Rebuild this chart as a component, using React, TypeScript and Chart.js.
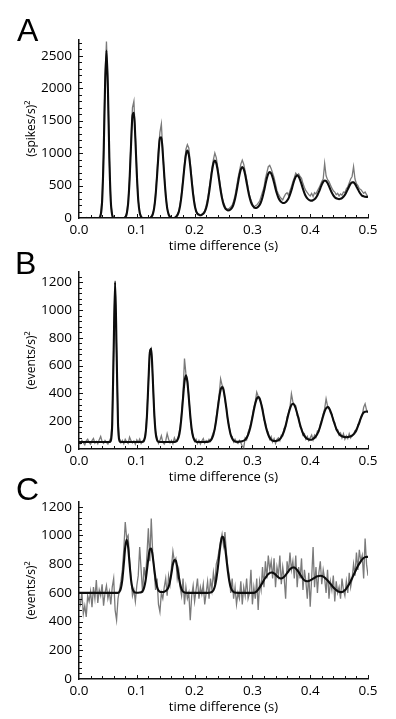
import React, { useEffect, useRef } from "react";
import { Chart, registerables } from "chart.js";

Chart.register(...registerables);

// ---------- data ----------
const TIME_STEP = 0.0025; // bin width (s)
const TIME: number[] = Array.from({ length: 201 }, (_, i) => +(i * TIME_STEP).toFixed(4));

const X_TICKS = [0, 0.1, 0.2, 0.3, 0.4, 0.5];
const A_Y_TICKS = [0, 500, 1000, 1500, 2000, 2500];
const B_Y_TICKS = [0, 200, 400, 600, 800, 1000, 1200];
const C_Y_TICKS = [0, 200, 400, 600, 800, 1000, 1200];

// Panel A – fitted curve (black)
const A_FIT = [
  0, 0, 0, 0, 0, 0, 0, 0, 0, 0,
  0, 0, 0, 0, 0, 43, 260, 930, 2000, 2580,
  2000, 930, 260, 43, 0, 0, 0, 0, 0, 0,
  0, 0, 13, 62, 224, 588, 1118, 1571, 1620, 1225,
  684, 278, 85, 18, 0, 0, 0, 0, 0, 0,
  16, 53, 152, 346, 643, 980, 1240, 1245, 993, 657,
  357, 155, 56, 16, 0, 0, 0, 14, 38, 90,
  191, 353, 568, 794, 972, 1040, 972, 794, 570, 360,
  205, 110, 65, 50, 42, 49, 64, 96, 154, 251,
  387, 553, 717, 840, 886, 844, 730, 580, 427, 302,
  213, 159, 130, 117, 119, 134, 163, 215, 296, 406,
  534, 659, 750, 784, 752, 666, 547, 426, 322, 245,
  196, 168, 154, 157, 173, 202, 249, 321, 411, 516,
  611, 682, 707, 685, 624, 542, 452, 374, 312, 271,
  246, 232, 231, 243, 266, 302, 358, 428, 508, 582,
  636, 656, 638, 589, 522, 449, 385, 335, 302, 281,
  270, 267, 275, 289, 314, 351, 401, 458, 515, 558,
  578, 570, 538, 491, 436, 388, 348, 321, 304, 295,
  291, 297, 308, 327, 356, 396, 441, 490, 529, 551,
  549, 526, 487, 443, 401, 367, 342, 335, 328, 325,
  323,
];

// Panel A – measured (grey)
const A_RAW = [
  0, 0, 6, 0, 0, 9, 0, 0, 4, 0,
  0, 7, 0, 0, 10, 60, 310, 990, 2150, 2720,
  2060, 900, 240, 50, 5, 0, 0, 8, 0, 0,
  6, 0, 20, 80, 250, 620, 1180, 1700, 1800, 1270,
  700, 260, 90, 25, 0, 6, 0, 0, 9, 0,
  25, 70, 140, 380, 690, 1050, 1320, 1450, 1030, 640,
  380, 150, 60, 20, 5, 0, 8, 20, 55, 100,
  220, 390, 600, 820, 1060, 1130, 1080, 850, 610, 400,
  230, 100, 75, 60, 40, 55, 80, 110, 190, 300,
  440, 600, 770, 900, 1000, 930, 780, 620, 470, 330,
  240, 180, 130, 140, 150, 170, 200, 260, 350, 470,
  610, 720, 830, 890, 830, 720, 600, 470, 350, 280,
  220, 160, 190, 200, 230, 260, 330, 400, 470, 610,
  700, 790, 810, 760, 690, 620, 520, 420, 370, 330,
  300, 280, 330, 370, 390, 350, 420, 480, 560, 620,
  690, 660, 680, 640, 610, 530, 470, 420, 390, 360,
  340, 380, 330, 390, 370, 420, 460, 510, 560, 600,
  840, 650, 590, 560, 510, 460, 420, 400, 360, 380,
  340, 370, 350, 400, 390, 450, 480, 540, 600, 640,
  790, 600, 530, 500, 450, 440, 410, 380, 400, 360,
  330,
];

// Panel B – fitted curve (black)
const B_FIT = [
  50, 50, 50, 50, 50, 50, 50, 50, 50, 50,
  50, 50, 50, 50, 50, 50, 50, 50, 50, 50,
  50, 50, 59, 182, 717, 1200, 717, 182, 59, 50,
  50, 50, 50, 50, 50, 50, 50, 50, 50, 50,
  50, 50, 50, 50, 52, 61, 104, 234, 469, 693,
  720, 521, 274, 120, 65, 52, 50, 50, 50, 50,
  50, 50, 50, 50, 50, 50, 51, 53, 62, 86,
  142, 240, 367, 482, 530, 482, 367, 240, 142, 86,
  62, 53, 50, 50, 50, 50, 50, 50, 50, 52,
  54, 61, 76, 103, 148, 212, 290, 366, 424, 445,
  424, 366, 290, 212, 148, 103, 76, 61, 54, 52,
  51, 53, 54, 56, 60, 67, 80, 102, 133, 175,
  226, 280, 327, 361, 373, 361, 327, 280, 226, 175,
  133, 102, 80, 67, 60, 57, 57, 59, 63, 71,
  85, 105, 132, 168, 210, 253, 290, 316, 325, 316,
  291, 255, 215, 174, 140, 113, 94, 81, 73, 69,
  67, 67, 73, 80, 92, 109, 133, 165, 201, 238,
  270, 293, 301, 294, 273, 243, 209, 176, 147, 125,
  109, 98, 92, 88, 86, 85, 86, 88, 91, 96,
  105, 119, 138, 163, 192, 220, 246, 262, 268, 270,
  265,
];

// Panel B – measured (grey)
const B_RAW = [
  55, 40, 62, 45, 30, 58, 70, 48, 35, 60,
  75, 42, 55, 38, 66, 90, 52, 40, 61, 47,
  35, 58, 80, 200, 730, 1210, 700, 190, 75, 45,
  62, 38, 70, 52, 40, 85, 60, 44, 58, 35,
  66, 48, 72, 40, 55, 70, 118, 250, 480, 710,
  725, 530, 260, 130, 80, 40, 62, 95, 48, 35,
  58, 110, 70, 45, 62, 38, 80, 55, 70, 100,
  160, 260, 400, 650, 540, 500, 380, 230, 130, 95,
  55, 70, 40, 62, 35, 58, 75, 42, 60, 48,
  70, 55, 90, 120, 140, 230, 300, 390, 505, 460,
  440, 350, 300, 200, 160, 95, 90, 50, 70, 48,
  40, 62, 45, 20, 10, 80, 65, 120, 150, 190,
  240, 300, 340, 409, 380, 370, 330, 300, 210, 190,
  140, 120, 70, 90, 50, 75, 40, 70, 80, 60,
  100, 95, 150, 160, 230, 260, 300, 397, 340, 320,
  310, 240, 230, 160, 150, 100, 110, 70, 90, 60,
  80, 100, 65, 100, 85, 130, 125, 180, 210, 250,
  290, 361, 310, 300, 260, 250, 200, 190, 140, 140,
  100, 115, 80, 110, 70, 95, 75, 110, 80, 100,
  110, 130, 125, 175, 180, 230, 240, 300, 325, 280,
  270,
];

// Panel C – fitted curve (black)
const C_FIT = [
  600, 600, 600, 600, 600, 600, 600, 600, 600, 600,
  600, 600, 600, 600, 600, 600, 600, 600, 600, 600,
  600, 600, 600, 600, 600, 600, 600, 600, 608, 632,
  693, 801, 919, 972, 919, 801, 693, 632, 608, 602,
  601, 601, 602, 604, 612, 635, 681, 756, 840, 902,
  908, 855, 773, 694, 642, 616, 608, 606, 606, 608,
  614, 622, 641, 680, 738, 799, 828, 824, 778, 716,
  660, 626, 609, 603, 601, 600, 600, 600, 600, 600,
  600, 600, 600, 600, 600, 600, 600, 600, 600, 600,
  601, 602, 607, 619, 645, 695, 767, 858, 941, 990,
  984, 925, 839, 752, 683, 639, 616, 606, 602, 601,
  600, 600, 600, 600, 600, 600, 600, 600, 600, 600,
  600, 600, 604, 612, 623, 638, 654, 671, 689, 705,
  719, 731, 738, 742, 741, 735, 727, 717, 708, 702,
  700, 704, 712, 724, 738, 752, 764, 772, 777, 776,
  770, 759, 744, 729, 713, 698, 688, 682, 681, 683,
  687, 692, 699, 705, 711, 715, 718, 719, 717, 713,
  706, 697, 687, 675, 663, 651, 639, 628, 619, 612,
  607, 605, 606, 610, 619, 630, 645, 662, 681, 702,
  724, 745, 766, 787, 804, 820, 833, 843, 849, 851,
  850,
];

// Panel C – measured (grey)
const C_RAW = [
  560, 520, 600, 455, 510, 433, 580, 540, 610, 500,
  640, 560, 690, 530, 620, 580, 660, 510, 600, 650,
  560, 610, 520, 640, 700, 480, 410, 560, 620, 680,
  760, 900, 1094, 980, 1000, 830, 700, 580, 620, 540,
  650, 720, 920, 760, 600, 780, 700, 860, 1050, 820,
  1117, 880, 760, 620, 700, 520, 468, 600, 560, 640,
  700, 580, 720, 660, 780, 890, 820, 840, 700, 760,
  640, 580, 700, 520, 640, 560, 600, 410, 580, 650,
  540, 620, 700, 560, 640, 590, 660, 520, 600, 680,
  560, 700, 620, 740, 660, 800, 840, 900, 960, 1010,
  930, 1024, 880, 780, 720, 600, 700, 560, 640, 520,
  600, 560, 680, 520, 640, 580, 700, 560, 600, 760,
  520, 640, 560, 700, 480, 680, 620, 780, 640, 820,
  700, 860, 760, 820, 700, 840, 640, 780, 720, 860,
  660, 780, 700, 560, 820, 740, 880, 760, 820, 700,
  860, 640, 780, 700, 840, 620, 760, 680, 560, 740,
  503, 700, 920, 640, 780, 600, 740, 820, 660, 760,
  700, 600, 760, 560, 680, 620, 720, 540, 680, 600,
  640, 560, 700, 620, 580, 680, 600, 740, 640, 700,
  800, 720, 880, 760, 900, 820, 860, 700, 978, 800,
  720,
];

// ---------- styling ----------
const FONT = "'Open Sans', 'Noto Sans', sans-serif";
const X_MAX = 0.5;
const X_MINOR_STEP = 0.02;

type PanelSpec = {
  top: number;
  height: number;
  padTop: number;
  yMax: number;
  yTicks: number[];
  yMinorStep: number;
  yTitle: string;
  raw: number[];
  fit: number[];
};

function ChartPanel({ spec }: { spec: PanelSpec }) {
  const ref = useRef<HTMLCanvasElement | null>(null);
  useEffect(() => {
    const canvas = ref.current;
    if (!canvas) return;
    const inwardTicks = {
      id: "inwardTicks",
      afterDraw(chart: any) {
        const { ctx, chartArea: a } = chart;
        const xs = chart.scales.x;
        const ys = chart.scales.y;
        ctx.save();
        ctx.strokeStyle = "#111";
        ctx.lineWidth = 1;
        ctx.beginPath();
        const nx = Math.round(X_MAX / X_MINOR_STEP);
        for (let k = 1; k <= nx; k++) {
          const v = k * X_MINOR_STEP;
          const major = X_TICKS.some((t) => Math.abs(t - v) < 1e-6);
          const px = Math.round(xs.getPixelForValue(v)) + 0.5;
          ctx.moveTo(px, a.bottom);
          ctx.lineTo(px, a.bottom - (major ? 4 : 3));
        }
        const ny = Math.floor(spec.yMax / spec.yMinorStep + 1e-6);
        for (let k = 1; k <= ny; k++) {
          const v = k * spec.yMinorStep;
          const major = spec.yTicks.includes(v);
          const py = Math.round(ys.getPixelForValue(v)) + 0.5;
          ctx.moveTo(a.left, py);
          ctx.lineTo(a.left + (major ? 4 : 3), py);
        }
        ctx.stroke();
        ctx.restore();
      },
    };
    const chart = new Chart(canvas, {
      type: "line",
      data: {
        datasets: [
          {
            data: spec.fit.map((y, i) => ({ x: TIME[i], y })),
            borderColor: "#0d0d0d",
            borderWidth: 2.1,
            pointRadius: 0,
            cubicInterpolationMode: "monotone",
            borderJoinStyle: "round",
            order: 0,
          },
          {
            data: spec.raw.map((y, i) => ({ x: TIME[i], y })),
            borderColor: "#7a7a7a",
            borderWidth: 1.3,
            pointRadius: 0,
            tension: 0,
            order: 1,
          },
        ],
      },
      options: {
        animation: false,
        responsive: false,
        maintainAspectRatio: false,
        events: [],
        layout: { padding: { left: 0, right: 28, top: spec.padTop, bottom: 0 } },
        plugins: { legend: { display: false }, tooltip: { enabled: false } },
        scales: {
          x: {
            type: "linear",
            min: 0,
            max: X_MAX,
            grid: { display: false, drawTicks: false },
            border: { display: true, color: "#111", width: 1.5 },
            afterBuildTicks: (s: any) => {
              s.ticks = X_TICKS.map((v) => ({ value: v }));
            },
            afterFit: (s: any) => {
              s.height = 38;
            },
            ticks: {
              padding: 4,
              color: "#000",
              font: { family: FONT, size: 13.5 },
              maxRotation: 0,
              autoSkip: false,
              callback: (v: any) => Number(v).toFixed(1),
            },
            title: {
              display: true,
              text: "time difference (s)",
              color: "#000",
              font: { family: FONT, size: 13 },
              padding: { top: 0, bottom: 1.5 },
            },
          },
          y: {
            type: "linear",
            min: 0,
            max: spec.yMax,
            grid: { display: false, drawTicks: false },
            border: { display: true, color: "#111", width: 1.5 },
            afterBuildTicks: (s: any) => {
              s.ticks = spec.yTicks.map((v) => ({ value: v }));
            },
            afterFit: (s: any) => {
              s.width = 79;
            },
            ticks: {
              padding: 7,
              color: "#000",
              font: { family: FONT, size: 13.5 },
              autoSkip: false,
              callback: (v: any) => String(v),
            },
            title: {
              display: true,
              text: spec.yTitle,
              color: "#000",
              font: { family: FONT, size: 12 },
              padding: { top: 24, bottom: 0 },
            },
          },
        },
      } as any,
      plugins: [inwardTicks],
    });
    return () => chart.destroy();
  }, [spec]);
  return (
    <canvas
      ref={ref}
      width={396}
      height={spec.height}
      style={{ position: "absolute", left: 0, top: spec.top, width: 396, height: spec.height }}
    />
  );
}

const PANELS: PanelSpec[] = [
  { top: 0, height: 256, padTop: 39.5, yMax: 2750, yTicks: A_Y_TICKS, yMinorStep: 100, yTitle: "(spikes/s)²", raw: A_RAW, fit: A_FIT },
  { top: 240, height: 247, padTop: 31.7, yMax: 1275, yTicks: B_Y_TICKS, yMinorStep: 40, yTitle: "(events/s)²", raw: B_RAW, fit: B_FIT },
  { top: 470, height: 247, padTop: 31.7, yMax: 1235, yTicks: C_Y_TICKS, yMinorStep: 40, yTitle: "(events/s)²", raw: C_RAW, fit: C_FIT },
];

const LETTERS = [
  { text: "A", left: 17, top: 14 },
  { text: "B", left: 15, top: 247 },
  { text: "C", left: 16, top: 473 },
];

export default function App() {
  return (
    <div style={{ position: "absolute", left: 0, top: 0, width: 396, height: 719, background: "#fff", overflow: "hidden" }}>
      {PANELS.map((p, i) => (
        <ChartPanel key={i} spec={p} />
      ))}
      {LETTERS.map((l) => (
        <div
          key={l.text}
          style={{
            position: "absolute",
            left: l.left,
            top: l.top,
            fontFamily: "'Liberation Sans', Arial, sans-serif",
            fontSize: 32,
            lineHeight: "32px",
            color: "#000",
          }}
        >
          {l.text}
        </div>
      ))}
    </div>
  );
}
